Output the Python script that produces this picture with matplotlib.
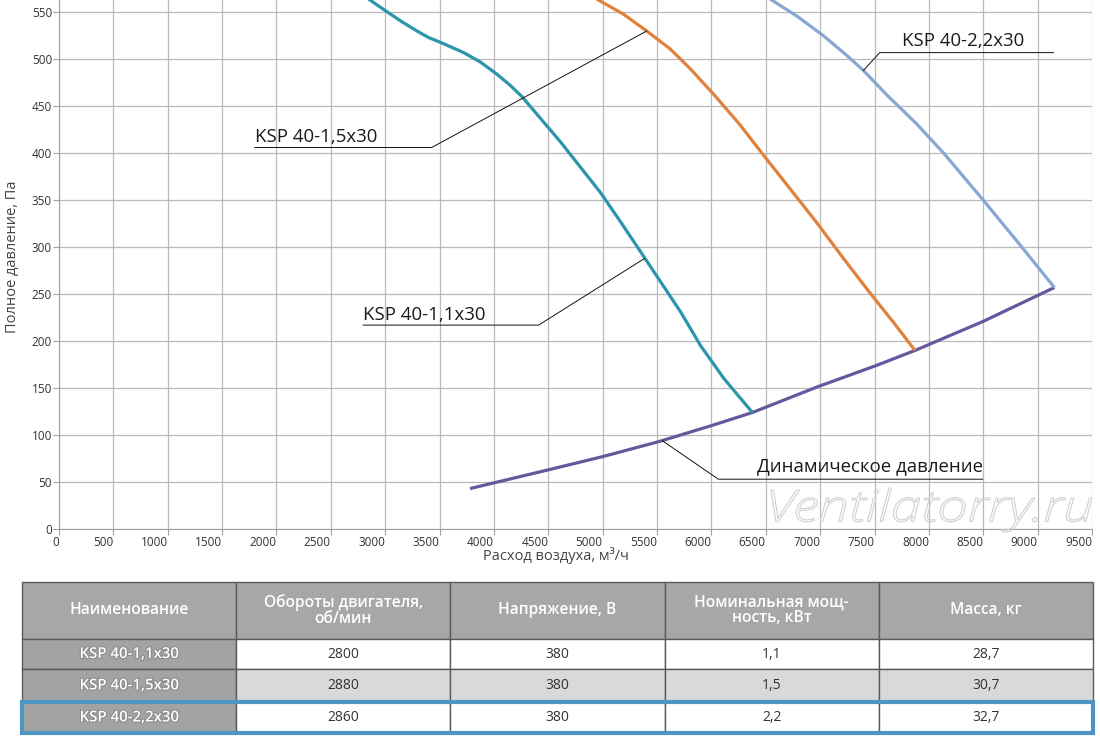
import matplotlib
matplotlib.use("Agg")
import matplotlib.pyplot as plt
import matplotlib.patheffects as pe
from matplotlib.patches import Rectangle, PathPatch
from matplotlib.textpath import TextPath
from matplotlib.font_manager import FontProperties
from matplotlib.transforms import Affine2D

plt.rcParams['font.family'] = ['Open Sans', 'DejaVu Sans']

# Характеристики вентиляторов: расход (м3/ч) и полное давление (Па)
q_11 = [2847, 2985, 3138, 3292, 3400, 3507, 3722, 3875, 4028, 4151, 4259, 4428, 4612,
        4796, 4980, 5164, 5349, 5533, 5717, 5901, 6116, 6377]
p_11 = [564, 553, 541, 530, 523, 518, 507, 497, 484, 472, 460, 437, 412,
        385, 358, 327, 295, 263, 231, 195, 160, 124]

q_15 = [4945, 5190, 5405, 5620, 5804, 6018, 6264, 6478, 6724, 6969, 7214, 7460, 7674, 7872]
p_15 = [564, 548, 530, 511, 490, 463, 430, 398, 362, 326, 288, 251, 220, 190]

q_22 = [6540, 6785, 7030, 7245, 7398, 7613, 7880, 8136, 8500, 8855, 9154]
p_22 = [564, 546, 525, 504, 488, 462, 432, 400, 350, 300, 257]

# Динамическое давление
q_dyn = [3780, 4501, 4999, 5516, 6000, 6377, 6968, 7516, 7872, 8500, 9154]
p_dyn = [43, 63, 77, 93, 110, 124, 151, 174, 190, 221, 257]

x_ticks = list(range(0, 9501, 500))
y_ticks = list(range(0, 551, 50))

# Таблица
table_header = ['Наименование', 'Обороты двигателя,\nоб/мин', 'Напряжение, В',
                'Номинальная мощ-\nность, кВт', 'Масса, кг']
models = ['KSP 40-1,1x30', 'KSP 40-1,5x30', 'KSP 40-2,2x30']
rpm = ['2800', '2880', '2860']
voltage = ['380', '380', '380']
power = ['1,1', '1,5', '2,2']
mass = ['28,7', '30,7', '32,7']

W, H = 1100, 740
fig = plt.figure(figsize=(W / 100, H / 100), dpi=100)
ax = fig.add_axes([59 / W, (H - 529) / H, 1033 / W, 529 / H])

ax.plot(q_dyn, p_dyn, color='#67579d', lw=2.3, zorder=3, solid_capstyle='butt')
ax.plot(q_11, p_11, color='#2b95aa', lw=2.3, zorder=4, solid_capstyle='butt')
ax.plot(q_15, p_15, color='#e0813e', lw=2.3, zorder=4, solid_capstyle='butt')
ax.plot(q_22, p_22, color='#88a7d2', lw=2.3, zorder=4, solid_capstyle='butt')

ax.set_xlim(0, 9500)
ax.set_ylim(0, 563)
ax.set_xticks(x_ticks)
ax.set_yticks(y_ticks)
ax.grid(True, color='#b9b9b9', lw=0.9)
ax.set_axisbelow(True)
for s in ['top', 'right']:
    ax.spines[s].set_visible(False)
for s in ['left', 'bottom']:
    ax.spines[s].set_color('#a0a0a0')
ax.tick_params(length=4, width=0.8, color='#a0a0a0', labelsize=8.5,
               labelcolor='#333333', pad=1)
for lab in ax.get_xticklabels():
    lab.set_horizontalalignment('right')

fig.text(13 / W, 1 - 257 / H, 'Полное давление, Па', rotation=90,
         ha='center', va='center', fontsize=10.5, color='#444444')
fig.text(556 / W, 1 - 556 / H, 'Расход воздуха, м³/ч',
         ha='center', va='center', fontsize=10.5, color='#444444')

# подписи кривых с выносками
labels = [
    ('KSP 40-1,5x30', 1802, 417, [1802, 3427, 5405], [406, 406, 530]),
    ('KSP 40-2,2x30', 7752, 519, [9146, 7548, 7398], [507, 507, 488]),
    ('KSP 40-1,1x30', 2796, 228, [2796, 4411, 5386], [217, 217, 288]),
    ('Динамическое давление', 6420, 67, [8494, 6064, 5548], [53, 53, 94]),
]
for txt, tx, ty, lx, ly in labels:
    ax.text(tx, ty, txt, fontsize=13.4, color='#1a1a1a', va='center', ha='left', zorder=5)
    ax.plot(lx, ly, color='#111111', lw=0.7, zorder=5)

# водяной знак
fp = FontProperties(family='Open Sans', style='italic', weight='light')
tp = TextPath((0, 0), 'Ventilatorry.ru', size=40, prop=fp)
ext = tp.get_extents()
x0, x1, y_top, y_bot = 771, 1092, 488, 532
tr = (Affine2D().translate(-ext.x0, -ext.y0)
      .scale((x1 - x0) / ext.width, (y_bot - y_top) / ext.height)
      .translate(x0, H - y_bot).scale(1 / 100))
wm = PathPatch(tr.transform_path(tp), fc='none', ec='#d0d0d0', lw=0.8,
               transform=fig.dpi_scale_trans, zorder=6)
fig.add_artist(wm)

# таблица
ax_t = fig.add_axes([22 / W, (H - 733) / H, 1071 / W, 151 / H])
ax_t.axis('off')
rows = [[models[i], rpm[i], voltage[i], power[i], mass[i]] for i in range(len(models))]
tbl = ax_t.table(cellText=rows, colLabels=table_header, cellLoc='center',
                 bbox=[0, 0, 1, 1])
tbl.auto_set_font_size(False)
row_h = [57, 30, 33, 31]
for (r, c), cell in tbl.get_celld().items():
    cell.set_height(row_h[r])
    cell.set_edgecolor('#5a5a5a')
    cell.set_linewidth(1.0)
    t = cell.get_text()
    if r == 0:
        cell.set_facecolor('#a7a7a7')
        t.set_color('white')
        t.set_fontsize(11.2)
        t.set_fontweight('semibold')
        t.set_linespacing(0.95)
    elif c == 0:
        cell.set_facecolor('#a3a3a3')
        t.set_color('white')
        t.set_fontsize(10.8)
        t.set_fontweight('semibold')
        t.set_path_effects([pe.withStroke(linewidth=1.6, foreground='#8c8c8c')])
    else:
        cell.set_facecolor('#d9d9d9' if r == 2 else 'white')
        t.set_color('#333333')
        t.set_fontsize(10)

ax_t.add_patch(Rectangle((0, 0), 1, 31 / 151, transform=ax_t.transAxes, fill=False,
                         ec='#4e95c3', lw=3, clip_on=False, zorder=10))

fig.savefig('out.png', dpi=100)
